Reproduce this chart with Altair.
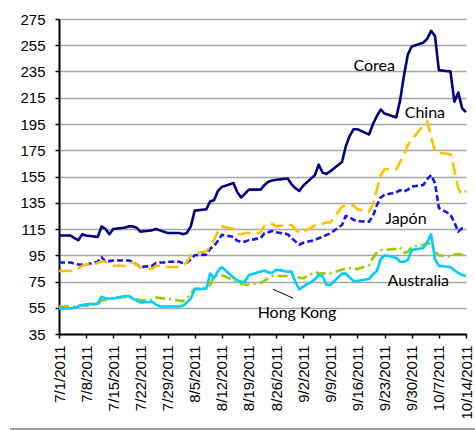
import altair as alt
import pandas as pd

# ---- data ----
dates = pd.bdate_range("2011-07-01", "2011-10-14")  # 76 business days

corea = [110, 110,108,106.5,111,110, 109,117,115,111,115, 116,117,117,116,113,
         114,115,114,113,112, 112,111,112,117,129, 130,136,137,144,147,
         150,143,139,142,145, 145,148.5,151,152,152.5, 153.5,149,146,144,148,
         156,164,158,157,159, 166,178,186,191,191, 187,195,201,206,203,
         200,213,232,248,254, 257,260,266,262,236, 235,212,219,207,204]
china = [83, 83,83.5,85,87,88, 89,90.5,90,88,87, 87,89,89.5,88,85.6,
         84.5,87,87,87,86, 86,87,90,95,96.5, 98,101.6,106.7,113,117,
         115,111,111,112,112, 112,117.5,118,119,117, 118,118,115,112,113,
         117.5,119,119,120,120, 132,133,133,133,130, 128,134,145,156,160.5,
         160.5,166,172,179,183, 194,197,185,174,173, 172,160,146,141,144]
japon = [89.5, 89.5,88.5,88,88,88, 90,93.5,90,90.5,91, 91,91,90,88,86,
         87,89,89.5,89.5,90, 90,89,89.5,92,95, 95.5,100,102,106,110.5,
         109,106,105.4,105.4,106.5, 108,111.7,112.5,113.5,112.5, 111,108,105.5,103,104.5,
         106.6,108,109,110.5,111.7, 118,125,124,122,121, 120.6,125,133,139,141,
         143,144.5,143.5,145,147.3, 148.5,153,156,150,131, 126,120,113,115.5,115.5]
australia = [54.5, 54.5,55,56,57,57.6, 58,63.5,62,62,62, 64,64,62,60.5,59,
             59.5,57.5,56,56,56, 56,56.5,59,62,69, 69.5,81,77.5,83,86,
             78,76,74.7,75,80, 82.5,83.3,82,81.5,84, 82.5,82.5,74.5,69,71,
             76.5,80,79,72.5,72.3, 81,81,78,75.4,75.4, 77,80.5,83,92,95,
             93,90,90,91.5,99, 100.5,105,111,92,87, 86,83.5,81.5,80,79.2]
hongkong = [56, 56,56,57,57,56.5, 58,60.5,61,62,62.7, 63,64,62.5,61.4,60.7,
            61,62.7,62.5,62,62, 60.5,60,62,66,69.6, 70,72.2,79.8,79.8,79.8,
            76,74,73,72.7,72.7, 74,75.6,77.5,79.2,79.2, 79.2,79.2,78.7,78,77.4,
            82,81.5,81.2,81.2,81.2, 84,85,85,85,84.5, 87.5,93,97,99,99,
            100,101,97,97.7,101.5, 103,104,104,98,95, 94,95.5,96,95.2,95.2]

series_names = ["Hong Kong", "Australia", "Japón", "China", "Corea"]
series_values = [hongkong, australia, japon, china, corea]
series_colors = ["#99CC00", "#00CCFF", "#1414F0", "#FFC000", "#000080"]
series_dashes = [[10, 4, 2, 4], [1, 0], [6, 3], [13, 6], [1, 0]]

tick_labels = ["7/1/2011", "7/8/2011", "7/15/2011", "7/22/2011", "7/29/2011",
               "8/5/2011", "8/12/2011", "8/19/2011", "8/26/2011", "9/2/2011",
               "9/9/2011", "9/16/2011", "9/23/2011", "9/30/2011", "10/7/2011",
               "10/14/2011"]
y_ticks = [35, 55, 75, 95, 115, 135, 155, 175, 195, 215, 235, 255, 275]

ann_labels = ["Corea", "China", "Japón", "Australia", "Hong Kong"]
ann_day = [81.3, 94.4, 89.5, 92.7, 61.4]
ann_val = [239.2, 203.4, 123.0, 75.4, 51.0]

# ---- build tables ----
start = dates[0]
day_idx = [(d - start).days for d in dates]
rows = []
for name, vals in zip(series_names, series_values):
    for d, v in zip(day_idx, vals):
        rows.append({"day": d, "value": v, "series": name})
df = pd.DataFrame(rows)
ann = pd.DataFrame({"label": ann_labels, "day": ann_day, "value": ann_val})
leader = pd.DataFrame({"day": [55.2], "value": [69.1], "day2": [60.4], "value2": [62.3]})

xscale = alt.Scale(domain=[0, 105], nice=False, zero=False)
yscale = alt.Scale(domain=[35, 275], nice=False, zero=False)
label_expr = "[" + ",".join("'" + t + "'" for t in tick_labels) + "][round(datum.value/7)]"

xaxis = alt.Axis(values=[i * 7 for i in range(len(tick_labels))],
                 labelExpr=label_expr, labelAngle=-90, labelAlign="right",
                 labelBaseline="middle", labelFont="Liberation Sans",
                 labelFontSize=15, labelColor="black", labelPadding=7,
                 tickSize=4, tickColor="black", tickWidth=1.5,
                 domainColor="black", domainWidth=2, grid=False,
                 labelOverlap=False, labelBound=False, labelFlush=False)
yaxis = alt.Axis(values=y_ticks, labelFont="Liberation Sans", labelFontSize=15,
                 labelColor="black", labelPadding=10, tickSize=4,
                 tickColor="black", tickWidth=1.5, domainColor="black",
                 domainWidth=2, grid=True, gridColor="#A6A6A6",
                 gridWidth=1.3, labelOverlap=False)

X = alt.X("day:Q", scale=xscale, title=None, axis=xaxis)
Y = alt.Y("value:Q", scale=yscale, title=None, axis=yaxis)

lines = alt.Chart(df).mark_line(strokeWidth=2.6, strokeJoin="round").encode(
    x=X, y=Y,
    color=alt.Color("series:N", scale=alt.Scale(domain=series_names, range=series_colors),
                    legend=None),
    strokeDash=alt.StrokeDash("series:N",
                              scale=alt.Scale(domain=series_names, range=series_dashes),
                              legend=None),
    order=alt.Order("day:Q"),
)

texts = alt.Chart(ann).mark_text(font="Lato", fontSize=16, color="black",
                                 align="center", baseline="middle").encode(
    x=X, y=Y, text="label:N",
)

lead = alt.Chart(leader).mark_rule(color="black", strokeWidth=1).encode(
    x=X, y=Y, x2="day2:Q", y2="value2:Q",
)

bottom = alt.Chart(pd.DataFrame({"a": [0]})).mark_rule(color="#7F7F7F", strokeWidth=1.5).encode(
    x=alt.value(-49), x2=alt.value(416), y=alt.value(410)
)

chart = alt.layer(lines, texts, lead, bottom).properties(
    width=407, height=315,
    padding={"left": 59, "top": 19, "right": 9, "bottom": 96},
    autosize=alt.AutoSizeParams(type="none"),
    background="white",
).configure_view(stroke=None)

chart.save("out.html", embed_options={"renderer": "svg", "actions": False})
